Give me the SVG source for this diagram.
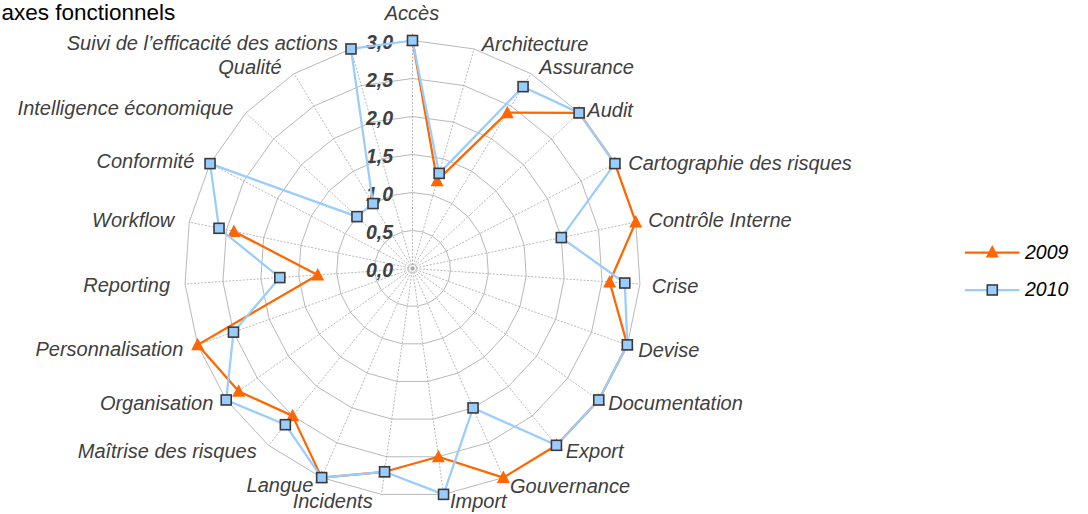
<svg xmlns="http://www.w3.org/2000/svg" xmlns:xlink="http://www.w3.org/1999/xlink" width="1088" height="514" viewBox="0 0 1088 514">
<style>
.ring{fill:none;stroke:#a6a6a6;stroke-width:0.8;vector-effect:non-scaling-stroke}
.spoke{fill:none;stroke:#a6a6a6;stroke-width:0.8;stroke-dasharray:2 1.5}
.lbl{font-family:"Liberation Sans",Arial,sans-serif;font-style:italic;font-size:20px;fill:#404040}
.tick{font-family:"Liberation Sans",Arial,sans-serif;font-style:italic;font-weight:bold;font-size:19.5px;fill:#404040;text-anchor:end}
.leg{font-family:"Liberation Sans",Arial,sans-serif;font-style:italic;font-size:19.5px;fill:#000}
.title{font-family:"Liberation Sans",Arial,sans-serif;font-size:22.5px;fill:#000}
.s09{fill:none;stroke:#ff6600;stroke-width:2.25;stroke-linejoin:round}
.s10{fill:none;stroke:#99ccff;stroke-width:2.25;stroke-linejoin:round}
</style>
<defs>
<polygon id="ring" class="ring" points="0,-38 10.25,-36.59 19.74,-32.47 27.77,-25.94 33.74,-17.48 37.21,-7.73 37.91,2.59 35.81,12.73 31.04,21.91 23.99,29.47 15.14,34.85 5.17,37.65 -5.17,37.65 -15.14,34.85 -23.99,29.47 -31.04,21.91 -35.81,12.73 -37.91,2.59 -37.21,-7.73 -33.74,-17.48 -27.77,-25.94 -19.74,-32.47 -10.25,-36.59"/>
<path id="tri" d="M0,-7 L6.5,5.5 L-6.5,5.5Z" fill="#ff6600"/>
<rect id="sq" x="-5" y="-5" width="10" height="10" fill="#99ccff" stroke="#3a3a3a" stroke-width="1.6"/>
</defs>
<rect width="1088" height="514" fill="#fff"/>
<text class="title" x="1.5" y="20">axes fonctionnels</text>
<g id="grid" transform="translate(412.5,268.5)">
<path class="spoke" d="M0,0L0,-228M0,0L61.51,-219.55M0,0L118.46,-194.81M0,0L166.63,-155.62M0,0L202.44,-104.89M0,0L223.23,-46.39M0,0L227.47,15.56M0,0L214.84,76.35M0,0L186.27,131.48M0,0L143.93,176.83M0,0L90.84,209.12M0,0L31.05,225.88M0,0L-31.05,225.88M0,0L-90.84,209.12M0,0L-143.93,176.83M0,0L-186.27,131.48M0,0L-214.84,76.35M0,0L-227.47,15.56M0,0L-223.23,-46.39M0,0L-202.44,-104.89M0,0L-166.63,-155.62M0,0L-118.46,-194.81M0,0L-61.51,-219.55"/>
<use xlink:href="#ring"/>
<use xlink:href="#ring" transform="scale(2)"/>
<use xlink:href="#ring" transform="scale(3)"/>
<use xlink:href="#ring" transform="scale(4)"/>
<use xlink:href="#ring" transform="scale(5)"/>
<use xlink:href="#ring" transform="scale(6)"/>
</g>
<g id="ticks">
<text class="tick" x="393" y="276.5">0,0</text>
<text class="tick" x="393" y="238.5">0,5</text>
<text class="tick" x="393" y="200.5">1,0</text>
<text class="tick" x="393" y="162.5">1,5</text>
<text class="tick" x="393" y="124.5">2,0</text>
<text class="tick" x="393" y="86.5">2,5</text>
<text class="tick" x="393" y="48.5">3,0</text>
</g>
<g id="axis-labels">
<g id="lbl-acces"><text class="lbl" x="412" y="20" text-anchor="middle">Accès</text></g>
<g id="lbl-architecture"><text class="lbl" x="481.7" y="50.7">Architecture</text></g>
<g id="lbl-assurance"><text class="lbl" x="539.3" y="74">Assurance</text></g>
<g id="lbl-audit"><text class="lbl" x="587.3" y="116.7">Audit</text></g>
<g id="lbl-cartographie"><text class="lbl" x="628.3" y="170">Cartographie des risques</text></g>
<g id="lbl-controle"><text class="lbl" x="648.3" y="226.7">Contrôle Interne</text></g>
<g id="lbl-crise"><text class="lbl" x="651.7" y="292.7">Crise</text></g>
<g id="lbl-devise"><text class="lbl" x="638.3" y="356.7">Devise</text></g>
<g id="lbl-documentation"><text class="lbl" x="608.3" y="410">Documentation</text></g>
<g id="lbl-export"><text class="lbl" x="565.7" y="458.3">Export</text></g>
<g id="lbl-gouvernance"><text class="lbl" x="510" y="492.7">Gouvernance</text></g>
<g id="lbl-import"><text class="lbl" x="450" y="508.3">Import</text></g>
<g id="lbl-incidents"><text class="lbl" x="372.7" y="508.3" text-anchor="end">Incidents</text></g>
<g id="lbl-langue"><text class="lbl" x="313.3" y="491.7" text-anchor="end">Langue</text></g>
<g id="lbl-maitrise"><text class="lbl" x="256.7" y="458.3" text-anchor="end">Maîtrise des risques</text></g>
<g id="lbl-organisation"><text class="lbl" x="213.3" y="410" text-anchor="end">Organisation</text></g>
<g id="lbl-personnalisation"><text class="lbl" x="183.3" y="356" text-anchor="end">Personnalisation</text></g>
<g id="lbl-reporting"><text class="lbl" x="170" y="291.7" text-anchor="end">Reporting</text></g>
<g id="lbl-workflow"><text class="lbl" x="174.3" y="226.7" text-anchor="end">Workflow</text></g>
<g id="lbl-conformite"><text class="lbl" x="194.3" y="168.3" text-anchor="end">Conformité</text></g>
<g id="lbl-intelligence"><text class="lbl" x="233.3" y="115" text-anchor="end">Intelligence économique</text></g>
<g id="lbl-qualite"><text class="lbl" x="281.7" y="74" text-anchor="end">Qualité</text></g>
<g id="lbl-suivi"><text class="lbl" x="338" y="50" text-anchor="end">Suivi de l’efficacité des actions</text></g>
</g>
<g id="connectors">
<g id="series-2009">
<polyline class="s09" points="412.5,40.5 437.11,180.68 507.27,112.65 579.13,112.88 614.94,163.61 635.73,222.11 609.64,281.98 627.34,344.85 598.77,399.98 556.43,445.33 503.34,477.62 438.37,456.73 384.56,471.79 321.66,477.62 292.56,415.86 238.65,391.22 197.66,344.85 317.72,274.98 233.92,231.39"/>
<use xlink:href="#tri" x="412.5" y="40.5"/>
<use xlink:href="#tri" x="437.11" y="180.68"/>
<use xlink:href="#tri" x="507.27" y="112.65"/>
<use xlink:href="#tri" x="579.13" y="112.88"/>
<use xlink:href="#tri" x="614.94" y="163.61"/>
<use xlink:href="#tri" x="635.73" y="222.11"/>
<use xlink:href="#tri" x="609.64" y="281.98"/>
<use xlink:href="#tri" x="627.34" y="344.85"/>
<use xlink:href="#tri" x="598.77" y="399.98"/>
<use xlink:href="#tri" x="556.43" y="445.33"/>
<use xlink:href="#tri" x="503.34" y="477.62"/>
<use xlink:href="#tri" x="438.37" y="456.73"/>
<use xlink:href="#tri" x="384.56" y="471.79"/>
<use xlink:href="#tri" x="321.66" y="477.62"/>
<use xlink:href="#tri" x="292.56" y="415.86"/>
<use xlink:href="#tri" x="238.65" y="391.22"/>
<use xlink:href="#tri" x="197.66" y="344.85"/>
<use xlink:href="#tri" x="317.72" y="274.98"/>
<use xlink:href="#tri" x="233.92" y="231.39"/>
</g>
<g id="series-2010">
<polygon class="s10" points="412.5,40.5 439.16,173.36 523.07,86.68 579.13,112.88 614.94,163.61 561.32,237.58 624.8,283.02 627.34,344.85 598.77,399.98 556.43,445.33 473.06,407.92 443.55,494.38 384.56,471.79 321.66,477.62 285.36,424.7 226.23,399.98 233.47,332.13 279.81,277.58 219.03,228.3 210.06,163.61 356.96,216.63 373.01,203.56 350.99,48.95"/>
<use xlink:href="#sq" x="412.5" y="40.5"/>
<use xlink:href="#sq" x="439.16" y="173.36"/>
<use xlink:href="#sq" x="523.07" y="86.68"/>
<use xlink:href="#sq" x="579.13" y="112.88"/>
<use xlink:href="#sq" x="614.94" y="163.61"/>
<use xlink:href="#sq" x="561.32" y="237.58"/>
<use xlink:href="#sq" x="624.8" y="283.02"/>
<use xlink:href="#sq" x="627.34" y="344.85"/>
<use xlink:href="#sq" x="598.77" y="399.98"/>
<use xlink:href="#sq" x="556.43" y="445.33"/>
<use xlink:href="#sq" x="473.06" y="407.92"/>
<use xlink:href="#sq" x="443.55" y="494.38"/>
<use xlink:href="#sq" x="384.56" y="471.79"/>
<use xlink:href="#sq" x="321.66" y="477.62"/>
<use xlink:href="#sq" x="285.36" y="424.7"/>
<use xlink:href="#sq" x="226.23" y="399.98"/>
<use xlink:href="#sq" x="233.47" y="332.13"/>
<use xlink:href="#sq" x="279.81" y="277.58"/>
<use xlink:href="#sq" x="219.03" y="228.3"/>
<use xlink:href="#sq" x="210.06" y="163.61"/>
<use xlink:href="#sq" x="356.96" y="216.63"/>
<use xlink:href="#sq" x="373.01" y="203.56"/>
<use xlink:href="#sq" x="350.99" y="48.95"/>
</g>
</g>
<g id="legend">
<line class="s09" x1="965" y1="252.7" x2="1019.5" y2="252.7"/>
<use xlink:href="#tri" x="992.3" y="252"/>
<text class="leg" x="1025" y="258.5">2009</text>
<line class="s10" x1="965" y1="290" x2="1019.5" y2="290"/>
<use xlink:href="#sq" x="992.3" y="290"/>
<text class="leg" x="1025" y="296">2010</text>
</g>
</svg>
